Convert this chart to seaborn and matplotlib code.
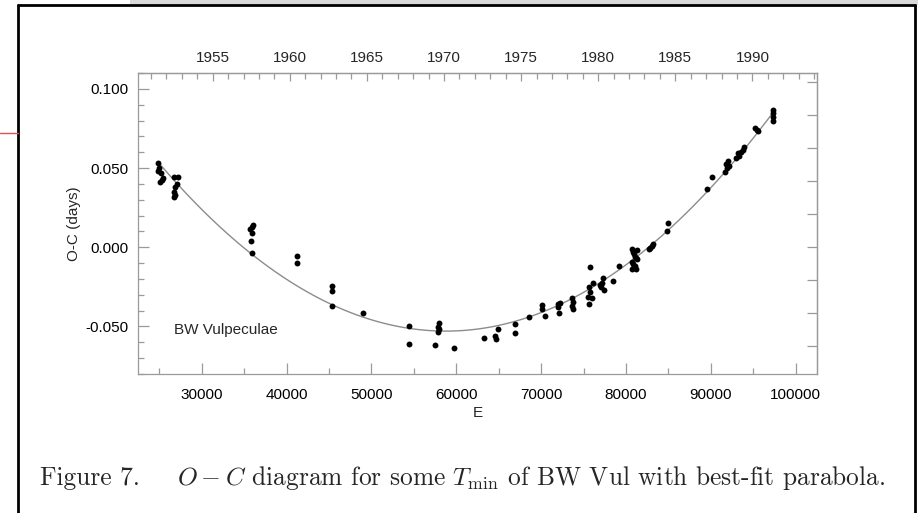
import matplotlib
matplotlib.use("Agg")
import numpy as np
import pandas as pd
import seaborn as sns
import matplotlib.pyplot as plt
from matplotlib.ticker import MultipleLocator, FormatStrFormatter, NullFormatter
from matplotlib.lines import Line2D
from matplotlib.patches import Rectangle

# ---- data ----
E = [24817, 24935, 25170, 25406, 25052, 25288, 24900,
     26702, 27173, 27055, 26820, 26702, 26820, 26702,
     36008, 35890, 35654, 35890, 35772, 35890,
     41191, 41191,
     45314, 45314, 45314,
     48966,
     54385, 54385,
     57919, 57801, 57801, 57919, 57447,
     59686, 63220, 64516, 64633, 64869, 66871, 66871, 68521,
     70052, 70052, 70405,
     71937, 72172, 71937, 72055,
     73586, 73704, 73586, 73704,
     75706, 75589, 75706, 75471, 75942, 75589, 76060,
     76884, 77120, 77238, 77356, 77002,
     78416, 79123,
     80650, 80800, 80950, 81100, 81250, 80700, 80850, 81000, 81150, 81300, 80750, 81200,
     82657, 83010, 83128, 82775,
     84894, 84776,
     89489, 90078,
     91609, 91727, 91963, 91845, 92081,
     92905, 93141, 93494, 93730, 93848, 93259,
     95143, 95379, 95497,
     97262, 97262, 97262, 97262]
OC = [0.0532, 0.0500, 0.0468, 0.0437, 0.0411, 0.0424, 0.0480,
      0.0443, 0.0443, 0.0399, 0.0380, 0.0348, 0.0329, 0.0316,
      0.0139, 0.0127, 0.0114, 0.0089, 0.0038, -0.0038,
      -0.0057, -0.0101,
      -0.0247, -0.0278, -0.0373,
      -0.0418,
      -0.0494, -0.0608,
      -0.0481, -0.0506, -0.0532, -0.0519, -0.0614,
      -0.0633, -0.0570, -0.0557, -0.0582, -0.0519, -0.0487, -0.0544, -0.0443,
      -0.0367, -0.0392, -0.0437,
      -0.0361, -0.0354, -0.0380, -0.0418,
      -0.0323, -0.0348, -0.0373, -0.0392,
      -0.0127, -0.0253, -0.0285, -0.0316, -0.0323, -0.0361, -0.0228,
      -0.0241, -0.0228, -0.0196, -0.0272, -0.0253,
      -0.0215, -0.0120,
      -0.0013, -0.0030, -0.0045, -0.0060, -0.0075, -0.0090, -0.0105, -0.0120, -0.0135, -0.0020, -0.0140, -0.0065,
      -0.0013, 0.0006, 0.0019, -0.0006,
      0.0152, 0.0101,
      0.0367, 0.0443,
      0.0475, 0.0525, 0.0544, 0.0500, 0.0513,
      0.0563, 0.0595, 0.0601, 0.0614, 0.0633, 0.0576,
      0.0753, 0.0741, 0.0734,
      0.0867, 0.0848, 0.0823, 0.0797]

x_ticks = [30000, 40000, 50000, 60000, 70000, 80000, 90000, 100000]
y_ticks = [-0.050, 0.000, 0.050, 0.100]
year_ticks = [1955, 1960, 1965, 1970, 1975, 1980, 1985, 1990]
label_text = "BW Vulpeculae"
caption_head = "Figure 7."
caption_body = r"$O-C$ diagram for some $T_{\rm min}$ of BW Vul with best-fit parabola."

# epoch <-> year (reading: 1955 at E=31300, period 0.20104 d)
E_1955 = 31300.0
cycles_per_year = 365.25 / 0.20104

def e2y(e):
    return 1955.0 + (np.asarray(e, dtype=float) - E_1955) / cycles_per_year

def y2e(y):
    return E_1955 + (np.asarray(y, dtype=float) - 1955.0) * cycles_per_year

sns.set_style("ticks")
plt.rcParams['font.family'] = ['Liberation Sans', 'DejaVu Sans']
plt.rcParams['mathtext.fontset'] = 'cm'

W, H = 918, 513
fig = plt.figure(figsize=(W / 100, H / 100), dpi=100)
fig.patch.set_facecolor('white')
ax = fig.add_axes([138 / W, 1 - 374 / H, (817 - 138) / W, (374 - 73) / H])

df = pd.DataFrame({'E': E, 'OC': OC})
sns.regplot(data=df, x='E', y='OC', order=2, scatter=False, ci=None,
            truncate=True, ax=ax, line_kws=dict(color='#8c8c8c', lw=1.0))
sns.scatterplot(data=df, x='E', y='OC', ax=ax, color='black', s=18,
                linewidth=0, zorder=3, legend=False)

ax.set_xlim(22500, 102500)
ax.set_ylim(-0.080, 0.110)
ax.set_xticks(x_ticks)
ax.set_yticks(y_ticks)
ax.xaxis.set_minor_locator(MultipleLocator(5000))
ax.yaxis.set_minor_locator(MultipleLocator(0.01))
ax.yaxis.set_major_formatter(FormatStrFormatter('%.3f'))
ax.xaxis.set_major_formatter(FormatStrFormatter('%d'))

spine_col = '#9a9a9a'
for s in ax.spines.values():
    s.set_visible(True)
    s.set_color(spine_col)
    s.set_linewidth(0.9)
ax.tick_params(which='both', direction='in', color=spine_col, width=0.9,
               labelsize=11, labelcolor='black')
ax.tick_params(which='major', length=8)
ax.tick_params(which='minor', length=4)
ax.tick_params(axis='x', pad=10)
ax.tick_params(axis='y', pad=7)

ax.set_xlabel('E', fontsize=11, labelpad=3)
ax.set_ylabel('O-C (days)', fontsize=11, labelpad=3)

# top year axis
secx = ax.secondary_xaxis('top', functions=(e2y, y2e))
secx.set_xticks(year_ticks)
secx.xaxis.set_minor_locator(MultipleLocator(1))
secx.xaxis.set_major_formatter(FormatStrFormatter('%d'))
secx.spines['top'].set_color(spine_col)
secx.spines['top'].set_linewidth(0.9)
secx.tick_params(which='both', direction='in', color=spine_col, width=0.9,
                 labelsize=11, pad=6)
secx.tick_params(which='major', length=6)
secx.tick_params(which='minor', length=4)

# right axis (hours), ticks only
secy = ax.secondary_yaxis('right', functions=(lambda d: np.asarray(d) * 24.0,
                                               lambda h: np.asarray(h) / 24.0))
secy.yaxis.set_major_locator(MultipleLocator(0.5))
secy.yaxis.set_major_formatter(NullFormatter())
secy.spines['right'].set_color(spine_col)
secy.spines['right'].set_linewidth(0.9)
secy.tick_params(which='both', direction='in', color=spine_col, width=0.9, length=7)

ax.text(26800, -0.0525, label_text, fontsize=11, va='center', ha='left')

# caption
fig.text(40 / W, 1 - 485 / H, caption_head, family='cmr10', fontsize=18.3, va='baseline')
fig.text(177 / W, 1 - 485 / H, caption_body, family='cmr10', fontsize=18.3, va='baseline')

# page frame / scan artefacts
fig.add_artist(Rectangle((130 / W, 1 - 5 / H), 1, 5 / H, transform=fig.transFigure,
                         color='#d9d9d9', lw=0, zorder=-1))
fig.add_artist(Line2D([18 / W, 18 / W], [0, 1 - 5 / H], transform=fig.transFigure,
                      color='black', lw=2))
fig.add_artist(Line2D([18 / W, 915 / W], [1 - 5 / H, 1 - 5 / H], transform=fig.transFigure,
                      color='black', lw=2))
fig.add_artist(Line2D([915 / W, 915 / W], [0, 1 - 5 / H], transform=fig.transFigure,
                      color='black', lw=2))
fig.add_artist(Line2D([0, 18 / W], [1 - 133 / H, 1 - 133 / H], transform=fig.transFigure,
                      color='#d9534f', lw=1))

fig.savefig('out.png', dpi=100)
